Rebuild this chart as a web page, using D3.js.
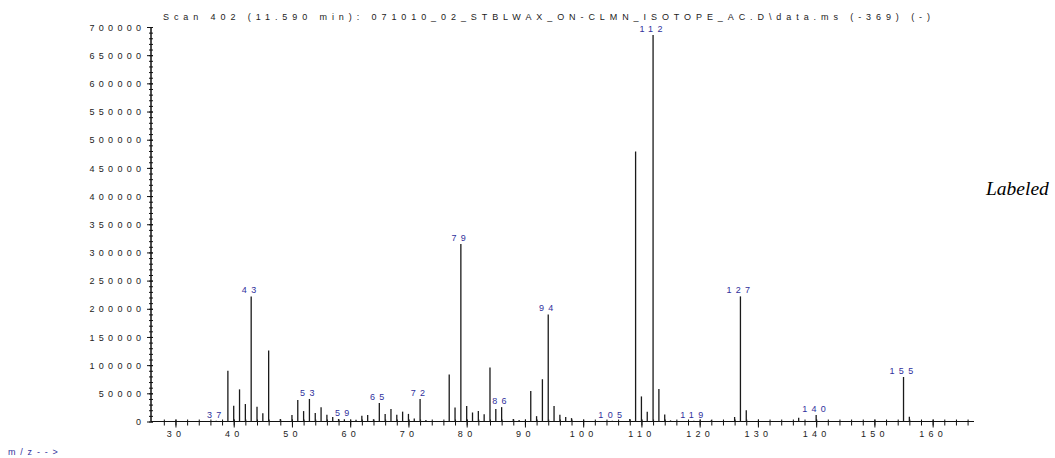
<!DOCTYPE html>
<html>
<head>
<meta charset="utf-8">
<script src="https://cdn.jsdelivr.net/npm/d3@7"></script>
<style>
  body { margin: 0; background: white; }
  svg { display: block; }
</style>
</head>
<body>
<div id="chart"></div>
<script>
var title = "Scan 402 (11.590 min): 071010_02_STBLWAX_ON-CLMN_ISOTOPE_AC.D\\data.ms (-369) (-)";

var mz = [37, 39, 40, 41, 42, 43, 44, 45, 46, 48, 50, 51, 52, 53, 54, 55, 56, 57, 58, 59,
          61, 62, 63, 64, 65, 66, 67, 68, 69, 70, 71, 72, 73, 77, 78, 79, 80, 81, 82, 83,
          84, 85, 86, 88, 89, 91, 92, 93, 94, 95, 96, 97, 98, 105, 108, 109, 110, 111, 112,
          113, 114, 115, 119, 122, 126, 127, 128, 137, 140, 155, 156];

var abundance = [1500, 90000, 28000, 57000, 31000, 222000, 26000, 14500, 126000, 4500,
                 11500, 38000, 18500, 40000, 15000, 25500, 12000, 8000, 4500, 4000,
                 3000, 10000, 11500, 4000, 33000, 13500, 22000, 12000, 17500, 13500, 5500,
                 40000, 2500, 83500, 25000, 315000, 27500, 16000, 18500, 13000,
                 96000, 22000, 25500, 4500, 2500, 54000, 9500, 75000, 190000, 27500, 12000,
                 8000, 6000, 1500, 4500, 479000, 44500, 17500, 686000,
                 57500, 12500, 2000, 1500, 2000, 8000, 222000, 20000, 6500, 11500, 79000, 8500];

var labeled = [37, 43, 53, 59, 65, 72, 79, 86, 94, 105, 112, 119, 127, 140, 155];

var xMajor = [30, 40, 50, 60, 70, 80, 90, 100, 110, 120, 130, 140, 150, 160];
var yMajor = [0, 50000, 100000, 150000, 200000, 250000, 300000, 350000,
              400000, 450000, 500000, 550000, 600000, 650000, 700000];

function render() {
  var width = 1055, height = 458;
  var font = "'Liberation Sans', Arial, sans-serif";
  var fontSize = 9;
  var spacing = 4.3;
  var blue = "#2f2f9c";

  var svg = d3.select("#chart")
    .append("svg")
    .attr("width", width)
    .attr("height", height);

  var x = d3.scaleLinear().domain([25.8, 167.1]).range([151, 974]);
  var y = d3.scaleLinear().domain([0, 700000]).range([421.5, 27]);

  var peaks = mz.map(function(d, i) { return {mz: d, v: abundance[i]}; });

  // x axis: minor every 2, major every 10
  var xMinor = d3.range(28, 167, 2);
  var gx = svg.append("g").attr("transform", "translate(0," + y(0) + ")");
  gx.call(d3.axisBottom(x).tickValues(xMinor).tickSize(4).tickFormat(""));
  gx.append("g")
    .call(d3.axisBottom(x).tickValues(xMajor).tickSize(6).tickPadding(3)
      .tickFormat(d3.format("d")));
  gx.selectAll(".domain").attr("d", "M" + x.range()[0] + ",0H" + x.range()[1]);
  gx.selectAll(".tick line").attr("y1", -2).attr("stroke", "#111");
  gx.selectAll(".tick text")
    .attr("font-family", font)
    .attr("font-size", fontSize)
    .attr("letter-spacing", spacing)
    .attr("fill", "#222");

  // y axis: minor every 10000, major every 50000
  var gy = svg.append("g").attr("transform", "translate(" + x.range()[0] + ",0)");
  gy.call(d3.axisLeft(y).tickValues(d3.range(0, 700001, 10000)).tickSize(2).tickFormat(""));
  gy.append("g")
    .call(d3.axisLeft(y).tickValues(yMajor).tickSize(4).tickPadding(6)
      .tickFormat(d3.format("d")));
  gy.selectAll(".domain").attr("d", "M0," + y.range()[0] + "V" + y.range()[1]);
  gy.selectAll(".tick line").attr("x1", 2).attr("stroke", "#111");
  gy.selectAll(".tick text")
    .attr("x", -10 + spacing)
    .attr("dy", "0.35em")
    .attr("font-family", font)
    .attr("font-size", fontSize)
    .attr("letter-spacing", spacing)
    .attr("fill", "#222");
  svg.selectAll(".domain").attr("stroke", "#111");

  // spectrum sticks
  svg.append("g")
    .selectAll("line")
    .data(peaks)
    .enter()
    .append("line")
    .attr("x1", function(d) { return x(d.mz); })
    .attr("x2", function(d) { return x(d.mz); })
    .attr("y1", y(0))
    .attr("y2", function(d) { return y(d.v); })
    .attr("stroke", "#1a1a1a")
    .attr("stroke-width", 1.3);

  // peak labels
  svg.append("g")
    .selectAll("text")
    .data(peaks.filter(function(d) { return labeled.indexOf(d.mz) >= 0; }))
    .enter()
    .append("text")
    .attr("x", function(d) { return x(d.mz); })
    .attr("y", function(d) { return y(d.v) - 3; })
    .attr("text-anchor", "middle")
    .attr("font-family", font)
    .attr("font-size", fontSize)
    .attr("letter-spacing", spacing)
    .attr("fill", blue)
    .text(function(d) { return d.mz; });

  svg.append("text")
    .attr("x", 163)
    .attr("y", 20)
    .attr("font-family", font)
    .attr("font-size", fontSize)
    .attr("textLength", 767)
    .attr("lengthAdjust", "spacing")
    .attr("fill", "#222")
    .text(title);

  svg.append("text")
    .attr("x", 8)
    .attr("y", 455)
    .attr("font-family", font)
    .attr("font-size", fontSize)
    .attr("letter-spacing", 4.8)
    .attr("fill", blue)
    .text("m/z-->");

  svg.append("text")
    .attr("x", 986)
    .attr("y", 195)
    .attr("font-family", "'Liberation Serif', 'Times New Roman', serif")
    .attr("font-style", "italic")
    .attr("font-size", 19.5)
    .attr("fill", "#000")
    .text("Labeled");
}

render();
</script>
</body>
</html>
